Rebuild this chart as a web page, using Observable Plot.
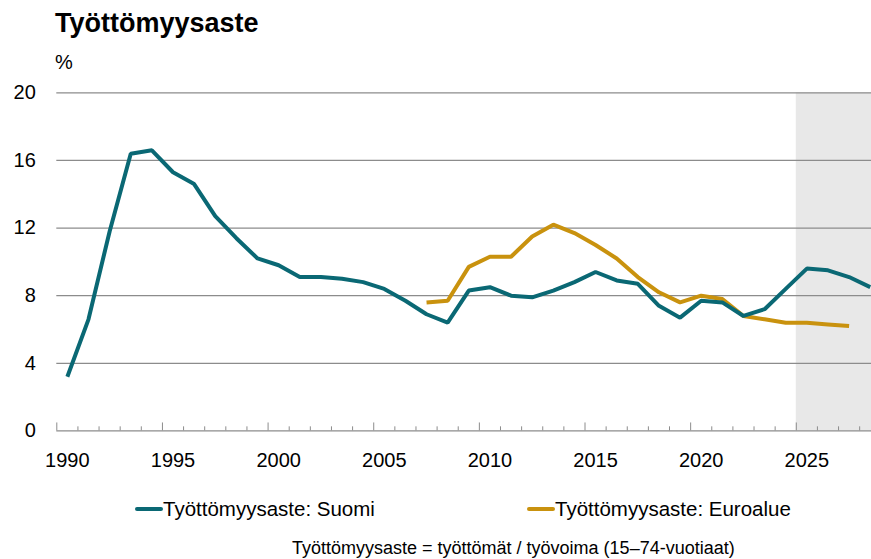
<!DOCTYPE html>
<html>
<head>
<meta charset="utf-8">
<script src="https://cdn.jsdelivr.net/npm/d3@7"></script>
<script src="https://cdn.jsdelivr.net/npm/@observablehq/plot@0.6"></script>
<style>
  body { margin: 0; background: #fff; }
  #wrap { position: relative; width: 871px; height: 559px; overflow: hidden; font-family: "Liberation Sans", Arial, sans-serif; color: #000; }
  .abs { position: absolute; white-space: nowrap; line-height: 1; }
  #title { left: 55px; top: 10px; font-size: 27px; font-weight: bold; }
  #unit { left: 55px; top: 52px; font-size: 20px; }
  #chart { position: absolute; left: 0; top: 80px; }
  .sw { position: absolute; width: 28px; height: 4px; border-radius: 2px; }
  .lg { font-size: 20.5px; }
  #caption { left: 292px; top: 539px; font-size: 18px; }
</style>
</head>
<body>
<div id="wrap">
  <div id="title" class="abs">Työttömyysaste</div>
  <div id="unit" class="abs">%</div>
  <div id="chart"></div>
  <div class="sw" style="left:135px; top:507px; background:#0a6874"></div>
  <div class="abs lg" style="left:163px; top:499px">Työttömyysaste: Suomi</div>
  <div class="sw" style="left:527px; top:507px; background:#c9920e"></div>
  <div class="abs lg" style="left:555px; top:499px">Työttömyysaste: Euroalue</div>
  <div id="caption" class="abs">Työttömyysaste = työttömät / työvoima (15–74-vuotiaat)</div>
</div>
<script>
// Data
const suomiYears = [1990,1991,1992,1993,1994,1995,1996,1997,1998,1999,2000,2001,2002,2003,2004,2005,2006,2007,2008,2009,2010,2011,2012,2013,2014,2015,2016,2017,2018,2019,2020,2021,2022,2023,2024,2025,2026,2027,2028];
const suomiValues = [3.2,6.6,11.8,16.4,16.6,15.3,14.6,12.7,11.4,10.2,9.8,9.1,9.1,9.0,8.8,8.4,7.7,6.9,6.4,8.3,8.5,8.0,7.9,8.3,8.8,9.4,8.9,8.7,7.4,6.7,7.7,7.6,6.8,7.2,8.4,9.6,9.5,9.1,8.5];
const euroYears = [2007,2008,2009,2010,2011,2012,2013,2014,2015,2016,2017,2018,2019,2020,2021,2022,2023,2024,2025,2026,2027];
const euroValues = [7.6,7.7,9.7,10.3,10.3,11.5,12.2,11.7,11.0,10.2,9.1,8.2,7.6,8.0,7.8,6.8,6.6,6.4,6.4,6.3,6.2];
const forecastYears = [2025, 2026, 2027, 2028];
const yTicks = [0, 4, 8, 12, 16, 20];
const xTickLabels = [1990, 1995, 2000, 2005, 2010, 2015, 2020, 2025];

const suomi = suomiYears.map((year, i) => ({year, value: suomiValues[i]}));
const euro = euroYears.map((year, i) => ({year, value: euroValues[i]}));

const xMin = 1989.5, xMax = 2028.06;
const firstYear = 1990, lastYear = 2028;
const boundaries = d3.range(firstYear, lastYear + 1).map(y => y - 0.5);
const majorB = boundaries.filter(b => (b + 0.5) % 5 === 0);
const minorB = boundaries.filter(b => (b + 0.5) % 5 !== 0);

const teal = "#0a6874", gold = "#c9920e", grid = "#8c8c8c";

const plot = Plot.plot({
  width: 871,
  height: 400,
  marginLeft: 56.3,
  marginRight: 0,
  marginTop: 12.3,
  marginBottom: 49.6,
  style: {fontFamily: "'Liberation Sans', Arial, sans-serif", fontSize: "20px", color: "#000", background: "transparent", overflow: "visible"},
  x: {domain: [xMin, xMax], axis: null},
  y: {domain: [0, 20], axis: null},
  marks: [
    Plot.rect([forecastYears], {x1: d => d3.min(d) - 0.5, x2: () => xMax, y1: 0, y2: 20, fill: "#e8e8e8"}),
    Plot.ruleY(yTicks.filter(t => t > 0), {stroke: grid, strokeWidth: 1.2}),
    Plot.ruleY([0], {stroke: grid, strokeWidth: 1.2}),
    Plot.ruleX(minorB, {y1: 0, y2: 0.24, stroke: grid, strokeWidth: 1}),
    Plot.ruleX(majorB, {y1: 0, y2: 0.47, stroke: grid, strokeWidth: 1}),
    Plot.axisY(yTicks, {tickSize: 0, tickPadding: 21, fontSize: 20, anchor: "left", label: null}),
    Plot.axisX(xTickLabels, {tickSize: 0, tickPadding: 22, fontSize: 20, anchor: "bottom", label: null, tickFormat: d => String(d)}),
    Plot.line(euro, {x: "year", y: "value", stroke: gold, strokeWidth: 4, strokeLinejoin: "miter", strokeLinecap: "butt"}),
    Plot.line(suomi, {x: "year", y: "value", stroke: teal, strokeWidth: 4, strokeLinejoin: "miter", strokeLinecap: "butt"})
  ]
});
document.getElementById("chart").appendChild(plot);
</script>
</body>
</html>
